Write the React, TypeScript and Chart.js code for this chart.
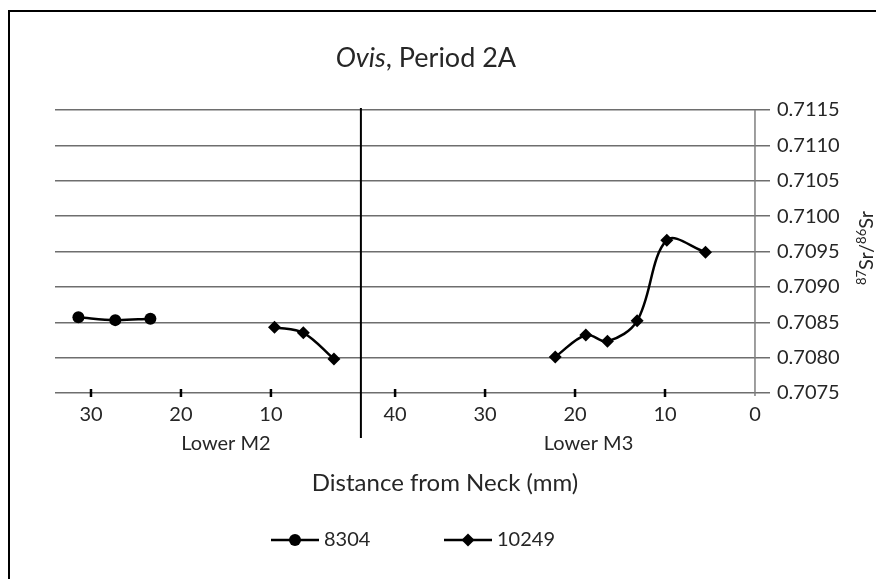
import React, { useEffect, useRef } from "react";
import { Chart, registerables } from "chart.js";

Chart.register(...registerables);

// ---- text ----
const TITLE_ITALIC = "Ovis";
const TITLE_REST = ", Period 2A";
const X_AXIS_TITLE = "Distance from Neck (mm)";
const PANEL_LABELS = ["Lower M2", "Lower M3"];
const SERIES_NAMES = ["8304", "10249"];

// ---- data (distance from neck in mm, 87Sr/86Sr) ----
const s8304_M2_dist = [31.4, 27.3, 23.4];
const s8304_M2_val = [0.70857, 0.70853, 0.70855];
const s10249_M2_dist = [9.6, 6.4, 3.0];
const s10249_M2_val = [0.70843, 0.70835, 0.70798];
const s10249_M3_dist = [22.2, 18.8, 16.4, 13.1, 9.8, 5.5];
const s10249_M3_val = [0.70801, 0.70832, 0.70823, 0.70852, 0.70966, 0.70949];

// ---- axes ----
const M2_TICKS = [30, 20, 10];
const M3_TICKS = [40, 30, 20, 10, 0];
const Y_MIN = 0.7075;
const Y_MAX = 0.7115;
const Y_STEP = 0.0005;

// shared axis: M3 distances as-is, M2 distances shifted past the separator
const M2_OFFSET = 43.8;
const X_MIN = -1.67;
const X_MAX = 77.8;

const FONT = "Lato";
const TEXT = "#262626";

export default function App() {
  const ref = useRef<HTMLCanvasElement>(null);

  useEffect(() => {
    const canvas = ref.current!;
    const toPts = (ds: number[], vs: number[], off: number) =>
      ds.map((d, i) => ({ x: d + off, y: vs[i] }));

    const style = (pointStyle: string, r: number) => ({
      borderColor: "#000",
      backgroundColor: "#000",
      borderWidth: 2.5,
      pointStyle,
      pointRadius: r,
      pointHoverRadius: r,
      pointBackgroundColor: "#000",
      pointBorderColor: "#000",
      pointBorderWidth: 0,
      tension: 0.35,
      fill: false,
    });

    const tickPositions = [
      ...M2_TICKS.map((t) => t + M2_OFFSET),
      ...M3_TICKS,
    ];

    const deco = {
      id: "deco",
      beforeDatasetsDraw(chart: any) {
        const { ctx, chartArea: ca, scales } = chart;
        const x = scales.x;
        const ln = (x1: number, y1: number, x2: number, y2: number) => {
          ctx.beginPath();
          ctx.moveTo(x1, y1);
          ctx.lineTo(x2, y2);
          ctx.stroke();
        };
        ctx.save();
        // value axis line at distance 0
        const x0 = x.getPixelForValue(0);
        ctx.strokeStyle = "#7f7f7f";
        ctx.lineWidth = 1.5;
        ln(x0, ca.top, x0, ca.bottom + 3);
        // tick marks crossing the category axis
        ctx.strokeStyle = "#000";
        ctx.lineWidth = 2.5;
        for (const t of tickPositions) {
          if (t === 0) continue;
          const px = x.getPixelForValue(t);
          ln(px, ca.bottom - 4, px, ca.bottom + 4);
        }
        // separator between the two teeth
        ctx.lineWidth = 2;
        const xs = x.getPixelForValue(M2_OFFSET);
        ln(xs, ca.top - 2, xs, ca.bottom + 45);
        ctx.restore();
      },
      afterDraw(chart: any) {
        const { ctx, chartArea: ca, scales } = chart;
        const x = scales.x;
        ctx.save();
        // outer border (left and top edges are visible)
        ctx.strokeStyle = "#000";
        ctx.lineWidth = 2;
        ctx.beginPath();
        ctx.moveTo(9, 600);
        ctx.lineTo(9, 11);
        ctx.lineTo(900, 11);
        ctx.stroke();

        ctx.fillStyle = TEXT;
        ctx.textBaseline = "middle";

        // title
        const tf = `27px ${FONT}`;
        const tfi = `italic 27px ${FONT}`;
        ctx.font = tfi;
        const w1 = ctx.measureText(TITLE_ITALIC).width;
        ctx.font = tf;
        const w2 = ctx.measureText(TITLE_REST).width;
        const tx = 426 - (w1 + w2) / 2;
        ctx.textAlign = "left";
        ctx.font = tfi;
        ctx.fillText(TITLE_ITALIC, tx, 58);
        ctx.font = tf;
        ctx.fillText(TITLE_REST, tx + w1, 58);

        // panel labels
        ctx.font = `20px ${FONT}`;
        ctx.textAlign = "center";
        ctx.fillText(PANEL_LABELS[0], x.getPixelForValue(M2_OFFSET + 15), ca.bottom + 51);
        ctx.fillText(PANEL_LABELS[1], x.getPixelForValue(18.5), ca.bottom + 51);

        // x axis title
        ctx.font = `24px ${FONT}`;
        ctx.fillText(X_AXIS_TITLE, 445, 483);

        // legend
        const ly = 540;
        const items = [
          { name: SERIES_NAMES[0], cx: 295, shape: "circle" },
          { name: SERIES_NAMES[1], cx: 468, shape: "diamond" },
        ];
        for (const it of items) {
          ctx.strokeStyle = "#000";
          ctx.lineWidth = 2.5;
          ctx.beginPath();
          ctx.moveTo(it.cx - 24, ly);
          ctx.lineTo(it.cx + 24, ly);
          ctx.stroke();
          ctx.fillStyle = "#000";
          ctx.beginPath();
          if (it.shape === "circle") {
            ctx.arc(it.cx, ly, 6, 0, Math.PI * 2);
          } else {
            ctx.moveTo(it.cx, ly - 6.5);
            ctx.lineTo(it.cx + 6.5, ly);
            ctx.lineTo(it.cx, ly + 6.5);
            ctx.lineTo(it.cx - 6.5, ly);
            ctx.closePath();
          }
          ctx.fill();
          ctx.fillStyle = TEXT;
          ctx.font = `20px ${FONT}`;
          ctx.textAlign = "left";
          ctx.fillText(it.name, it.cx + 29, ly);
        }

        // y axis title 87Sr/86Sr, rotated
        const parts = [
          { t: "87", sup: true },
          { t: "Sr/", sup: false },
          { t: "86", sup: true },
          { t: "Sr", sup: false },
        ];
        const big = `20px ${FONT}`;
        const small = `13px ${FONT}`;
        let total = 0;
        for (const p of parts) {
          ctx.font = p.sup ? small : big;
          total += ctx.measureText(p.t).width;
        }
        ctx.translate(866, 248);
        ctx.rotate(-Math.PI / 2);
        let px = -total / 2;
        ctx.textAlign = "left";
        ctx.textBaseline = "alphabetic";
        for (const p of parts) {
          ctx.font = p.sup ? small : big;
          ctx.fillText(p.t, px, p.sup ? 0 : 7);
          px += ctx.measureText(p.t).width;
        }
        ctx.restore();
      },
    };

    const chart = new Chart(canvas, {
      type: "line",
      data: {
        datasets: [
          { label: SERIES_NAMES[0], data: toPts(s8304_M2_dist, s8304_M2_val, M2_OFFSET), ...style("circle", 6) },
          { label: SERIES_NAMES[1], data: toPts(s10249_M2_dist, s10249_M2_val, M2_OFFSET), ...style("rectRot", 6.5) },
          { label: SERIES_NAMES[1] + " M3", data: toPts(s10249_M3_dist, s10249_M3_val, 0), ...style("rectRot", 6.5) },
        ] as any,
      },
      options: {
        animation: false,
        responsive: false,
        events: [],
        layout: { padding: { left: 55, top: 110, right: 16, bottom: 146 } },
        plugins: {
          legend: { display: false },
          title: { display: false },
          tooltip: { enabled: false },
        },
        scales: {
          x: {
            type: "linear",
            reverse: true,
            min: X_MIN,
            max: X_MAX,
            grid: { display: false, drawTicks: false },
            border: { display: false },
            afterBuildTicks: (s: any) => {
              s.ticks = tickPositions.map((v) => ({ value: v }));
            },
            afterFit: (s: any) => {
              s.height = 40;
            },
            ticks: {
              autoSkip: false,
              maxRotation: 0,
              padding: 10,
              color: TEXT,
              font: { family: FONT, size: 20 },
              callback: (v: any) => {
                const n = Number(v);
                return String(Math.round(n >= M2_OFFSET - 0.01 ? n - M2_OFFSET : n));
              },
            },
          },
          y: {
            type: "linear",
            position: "right",
            min: Y_MIN,
            max: Y_MAX,
            grid: { color: "#6e6e6e", lineWidth: 1.5, drawTicks: false },
            border: { display: false },
            afterFit: (s: any) => {
              s.width = 90;
            },
            ticks: {
              stepSize: Y_STEP,
              padding: 7,
              color: TEXT,
              font: { family: FONT, size: 20 },
              callback: (v: any) => Number(v).toFixed(4),
            },
          },
        },
      },
      plugins: [deco],
    });

    return () => chart.destroy();
  }, []);

  return (
    <canvas
      ref={ref}
      width={876}
      height={579}
      style={{ position: "absolute", left: 0, top: 0, width: 876, height: 579 }}
    />
  );
}
